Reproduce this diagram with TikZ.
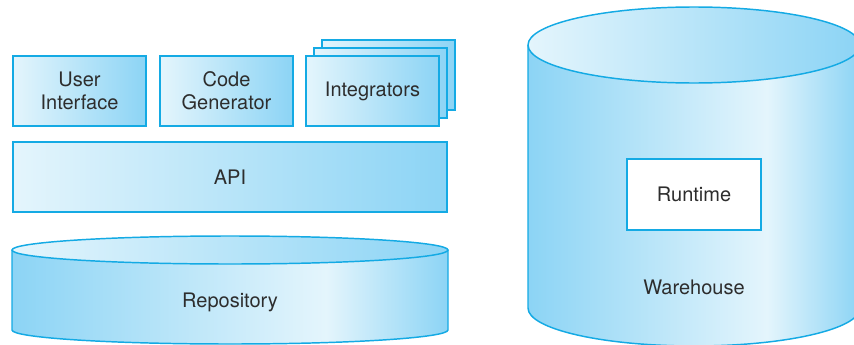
\documentclass[tikz,border=0pt]{standalone}
\usepackage{fontspec}
\setmainfont{TeX Gyre Heros}
\definecolor{edgeblue}{RGB}{20,170,228}
\definecolor{boxlight}{RGB}{228,245,252}
\definecolor{boxdark}{RGB}{140,212,245}
\definecolor{txtgray}{RGB}{45,45,45}
\pgfdeclarehorizontalshading{cylbody}{100bp}{color(0bp)=(boxdark); color(25bp)=(boxdark); color(61bp)=(boxlight); color(75bp)=(boxdark); color(100bp)=(boxdark)}
\begin{document}
\begin{tikzpicture}[x=0.75pt, y=0.75pt, line width=1.1pt,
    font=\fontsize{15}{17}\selectfont, text=txtgray,
    toolbox/.style={draw=edgeblue, left color=boxlight, right color=boxdark,
      minimum width=99.75pt, minimum height=52.5pt, inner sep=0pt, align=center},
    cyledge/.style={draw=edgeblue},
    cyltop/.style={left color=boxlight, right color=boxdark}]
  \clip (0,0) rectangle (854,344);
  \useasboundingbox (0,0) rectangle (854,344);

  % 1. Ba hộp công cụ phía trên
  \node[toolbox] (ui) at (79.5,253) {User\\Interface};
  \node[toolbox] (codegen) at (226.5,253) {Code\\Generator};
  % Integrators: ba tấm chồng lên nhau
  \node[toolbox] (integback) at (388.5,269) {};
  \node[toolbox] (integmid) at (380.5,261) {};
  \node[toolbox] (integ) at (372.5,253) {Integrators};

  % 2. Lớp API
  \node[toolbox, minimum width=325.5pt] (api) at (230,167) {API};

  % 3. Trụ Repository
  \path[shading=cylbody] (12,94) -- (12,14)
    arc[start angle=180, end angle=360, x radius=163.5pt, y radius=10.5pt]
    -- (448,94) -- cycle;
  \draw[cyledge] (12,94) -- (12,14)
    arc[start angle=180, end angle=360, x radius=163.5pt, y radius=10.5pt]
    -- (448,94);
  \draw[cyledge, cyltop] (230,94) ellipse[x radius=163.5pt, y radius=10.5pt];
  \node (repo) at (230,42) {Repository};

  % 4. Trụ Warehouse (bị cắt ở mép phải)
  \path[shading=cylbody] (528,299) -- (528,36)
    arc[start angle=180, end angle=360, x radius=124.5pt, y radius=28.5pt]
    -- (860,299) -- cycle;
  \draw[cyledge] (528,299) -- (528,36)
    arc[start angle=180, end angle=360, x radius=124.5pt, y radius=28.5pt]
    -- (860,299);
  \draw[cyledge, cyltop] (694,299) ellipse[x radius=124.5pt, y radius=28.5pt];
  \node[draw=edgeblue, fill=white, minimum width=100.5pt, minimum height=53.25pt,
    inner sep=0pt] (runtime) at (694,149.5) {Runtime};
  \node (warehouse) at (694,57) {Warehouse};
\end{tikzpicture}
\end{document}
